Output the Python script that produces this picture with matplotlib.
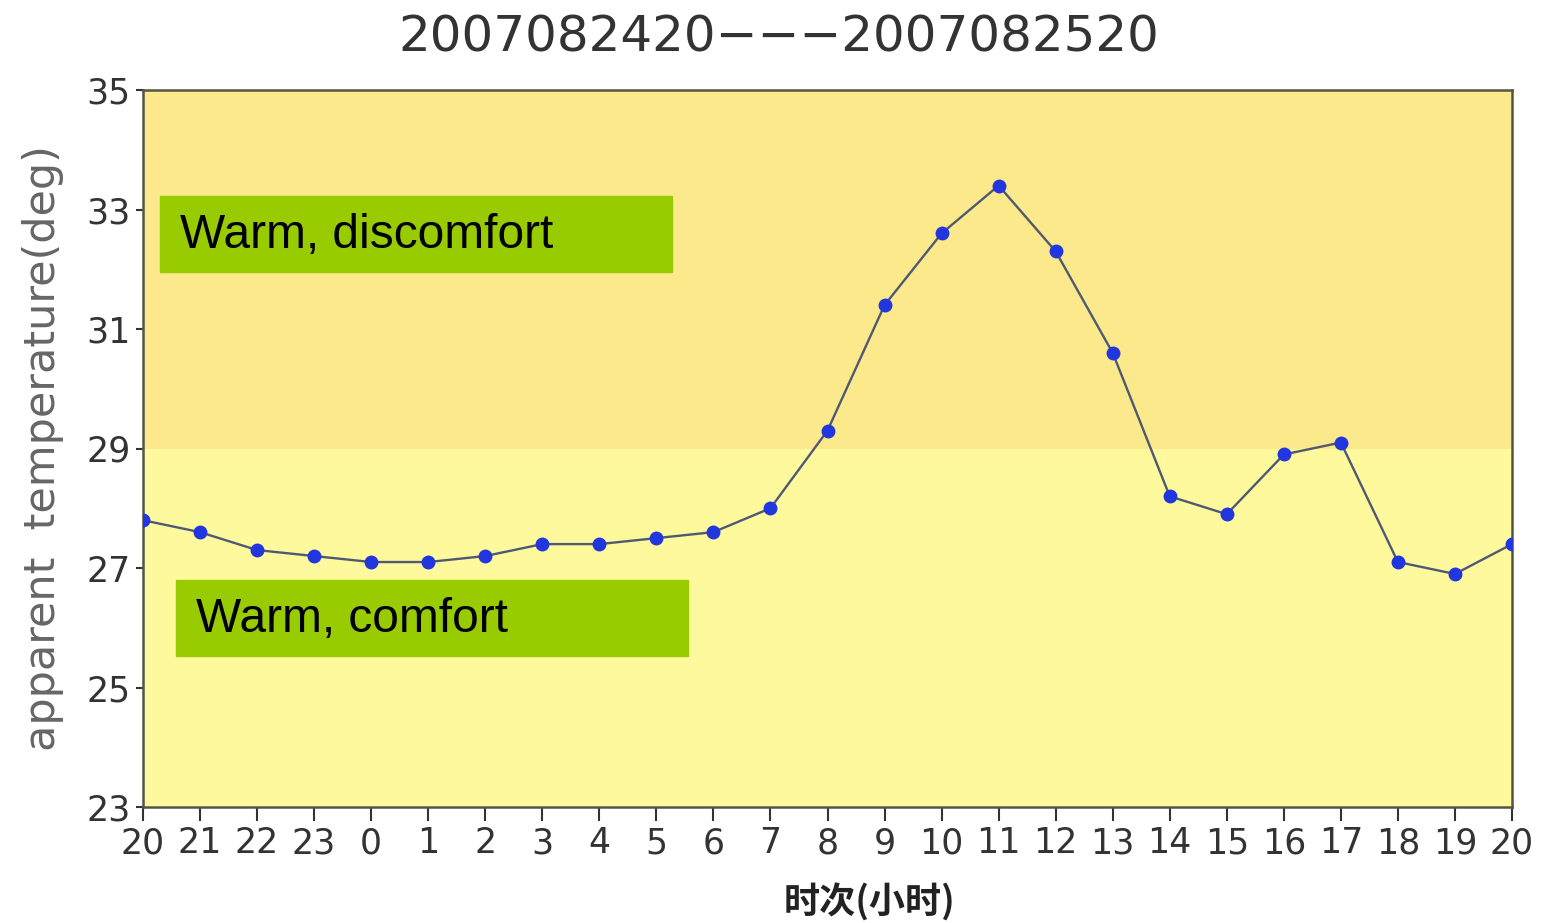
import matplotlib
matplotlib.use("Agg")
import matplotlib.pyplot as plt
from matplotlib.patches import Rectangle

hours = ["20", "21", "22", "23", "0", "1", "2", "3", "4", "5", "6", "7", "8", "9",
         "10", "11", "12", "13", "14", "15", "16", "17", "18", "19", "20"]
temps = [27.8, 27.6, 27.3, 27.2, 27.1, 27.1, 27.2, 27.4, 27.4, 27.5, 27.6, 28.0,
         29.3, 31.4, 32.6, 33.4, 32.3, 30.6, 28.2, 27.9, 28.9, 29.1, 27.1, 26.9, 27.4]
yticks = [23, 25, 27, 29, 31, 33, 35]
bands = [(23, 29, "#fef99c"), (29, 35, "#fce98b")]
labels = ["Warm, discomfort", "Warm, comfort"]
title = "2007082420\u2212\u2212\u22122007082520"

W, H = 1541, 923
fig = plt.figure(figsize=(W / 100, H / 100), dpi=100)
ax = fig.add_axes([143 / W, 1 - 807 / H, (1512 - 143) / W, (807 - 90) / H])

x = list(range(len(hours)))
for lo, hi, c in bands:
    ax.axhspan(lo, hi, color=c, zorder=0, lw=0)

ax.plot(x, temps, color="#4f5a72", lw=1.7, zorder=2)
ax.plot(x, temps, "o", color="#2236dd", ms=9, zorder=3)

ax.set_xlim(0, len(hours) - 1)
ax.set_ylim(23, 35)
ax.set_xticks(x)
ax.set_xticklabels(hours)
ax.set_yticks(yticks)
ax.tick_params(axis="both", labelsize=25, colors="#333333", direction="out")
ax.tick_params(axis="x", length=10, width=1.5, pad=4)
ax.tick_params(axis="y", length=5, width=1.5, pad=4)
for s in ax.spines.values():
    s.set_color("#555545")
    s.set_linewidth(1.8)

ax.set_ylabel("apparent  temperature(deg)", fontsize=31, color="#666666", labelpad=16)
fig.text(870 / W, 1 - 903 / H, "时次(小时)", fontsize=26, fontweight="bold",
         color="#222222", family=["Noto Sans CJK SC", "DejaVu Sans"],
         ha="center", va="center")
fig.text(779 / W, 1 - 38 / H, title, fontsize=36, color="#333333",
         ha="center", va="center")

boxes = [(160, 196, 512, 76), (176, 580, 512, 76)]
for (bx, by, bw, bh), lab in zip(boxes, labels):
    fig.patches.append(Rectangle((bx / W, 1 - (by + bh) / H), bw / W, bh / H,
                                 transform=fig.transFigure, color="#99cc00", zorder=5))
    fig.text((bx + 20) / W, 1 - (by + bh / 2 + 2) / H, lab, fontsize=34.5,
             family="Liberation Sans", color="black", va="center", ha="left", zorder=6)

fig.savefig("out.png", dpi=100)
